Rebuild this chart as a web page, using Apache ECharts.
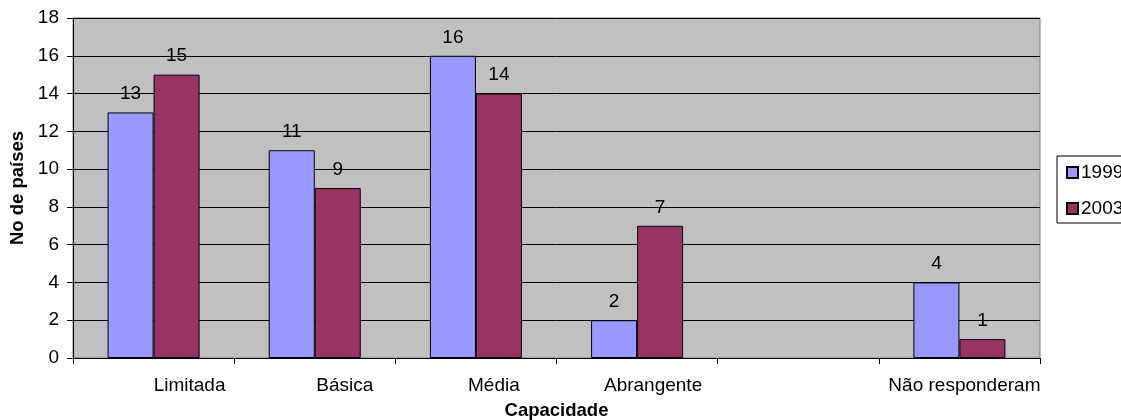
<!DOCTYPE html>
<html>
<head>
<meta charset="utf-8">
<title>Capacidade</title>
<script src="https://cdn.jsdelivr.net/npm/echarts@6/dist/echarts.min.js"></script>
<style>
  html, body { margin: 0; padding: 0; background: #ffffff; }
  #chart { width: 1121px; height: 420px; }
</style>
</head>
<body>
<div id="chart"></div>
<script>
// Categories (the fifth slot is intentionally left empty)
const categories = ['Limitada', 'Básica', 'Média', 'Abrangente', '', 'Não responderam'];
const seriesNames = ['1999', '2003'];
const values1999 = [13, 11, 16, 2, null, 4];
const values2003 = [15, 9, 14, 7, null, 1];
const yTicks = [0, 2, 4, 6, 8, 10, 12, 14, 16, 18];

// Horizontal nudge (px) applied to each category label
const labelShift = [36, 30, 18, 16, 0, 5];

const FONT = '"Liberation Sans", Arial, sans-serif';
const rich = {};
labelShift.forEach(function (s, i) {
  rich['c' + i] = {
    fontFamily: FONT, fontSize: 19, color: '#000',
    padding: [0, 0, 0, s * 2]
  };
});

const chart = echarts.init(document.getElementById('chart'), null, { renderer: 'canvas' });

const barLabel = {
  show: true, position: 'top', distance: 9,
  color: '#000', fontFamily: FONT, fontSize: 19
};

chart.setOption({
  animation: false,
  backgroundColor: '#ffffff',
  textStyle: { fontFamily: FONT },
  grid: {
    left: 73, right: 81, top: 18, bottom: 62,
    outerBoundsMode: 'none',
    containLabel: false,
    show: true, backgroundColor: '#c0c0c0',
    borderColor: '#808080', borderWidth: 1
  },
  legend: {
    data: seriesNames,
    orient: 'vertical',
    left: 1057, top: 156,
    padding: [7, 60, 5, 9],
    itemGap: 17,
    itemWidth: 11, itemHeight: 11,
    icon: 'rect',
    backgroundColor: '#ffffff',
    borderColor: '#000000', borderWidth: 1,
    textStyle: { color: '#000', fontFamily: FONT, fontSize: 19, padding: [0, 0, 0, -2] }
  },
  xAxis: {
    type: 'category',
    data: categories,
    name: 'Capacidade',
    nameLocation: 'middle',
    nameGap: 43,
    nameTextStyle: { color: '#000', fontFamily: FONT, fontSize: 18.5, fontWeight: 'bold' },
    axisLine: { show: true, lineStyle: { color: '#000', width: 1 } },
    axisTick: { show: true, length: 6, lineStyle: { color: '#000' } },
    axisLabel: {
      margin: 18,
      interval: 0,
      formatter: function (v, i) { return v ? '{c' + i + '|' + v + '}' : ''; },
      rich: rich
    }
  },
  yAxis: {
    type: 'value',
    min: yTicks[0], max: yTicks[yTicks.length - 1], interval: 2,
    name: 'No de países',
    nameLocation: 'middle',
    nameGap: 43,
    nameTextStyle: { color: '#000', fontFamily: FONT, fontSize: 18.5, fontWeight: 'bold' },
    axisLine: { show: true, lineStyle: { color: '#000', width: 1 } },
    axisTick: { show: true, length: 6, lineStyle: { color: '#000' } },
    axisLabel: { margin: 14, color: '#000', fontFamily: FONT, fontSize: 19 },
    splitLine: { show: true, lineStyle: { color: '#000', width: 1 } }
  },
  series: [
    {
      name: seriesNames[0], type: 'bar', data: values1999,
      barWidth: 46, barGap: '0%',
      itemStyle: { color: '#9999ff', borderColor: '#000', borderWidth: 1 },
      label: barLabel
    },
    {
      name: seriesNames[1], type: 'bar', data: values2003,
      barWidth: 46, barGap: '0%',
      itemStyle: { color: '#993366', borderColor: '#000', borderWidth: 1 },
      label: barLabel
    }
  ]
});
</script>
</body>
</html>
